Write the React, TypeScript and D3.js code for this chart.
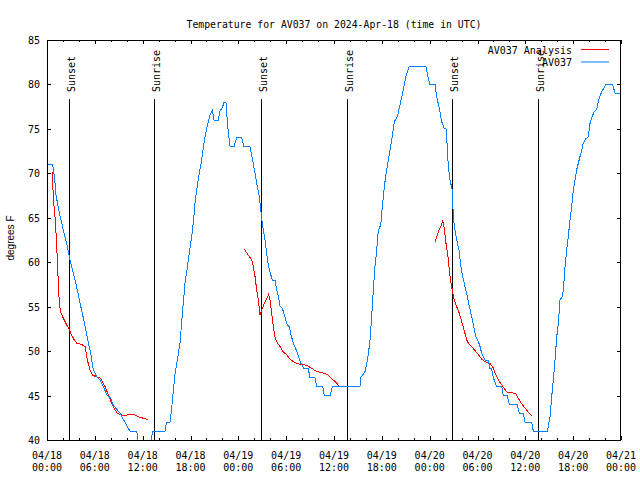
import React from 'react';
import * as d3 from 'd3';

// Time axis: hours since 2024-04-18 00:00 UTC
const START = Date.UTC(2024, 3, 18, 0, 0);
const END = Date.UTC(2024, 3, 21, 0, 0);

const titleText = 'Temperature for AV037 on 2024-Apr-18 (time in UTC)';
const yLabel = 'degrees F';
const seriesNames = ['AV037 Analysis', 'AV037'];
const seriesColors = ['#ff0000', '#0080ff'];

const yTicks = [40, 45, 50, 55, 60, 65, 70, 75, 80, 85];

// Observations (AV037)
const obsHours = [
  0, 0.71, 0.96, 1.13, 1.46, 1.8, 2.05, 2.47, 2.8, 3.14, 3.47, 3.8, 4.14, 4.47, 4.8, 5.14, 5.48, 5.81,
  6.23, 6.65, 7.07, 7.49, 7.99, 8.32, 8.82, 9.16, 9.78, 10.4, 11.25, 11.6, 12.9, 13.26, 14.8, 15.0,
  15.43, 15.64, 15.85, 16.06, 16.35, 16.68, 17.02, 17.31, 17.52, 17.85, 18.15, 18.35, 18.56, 18.77,
  19.1, 19.4, 19.69, 20.03, 20.45, 20.74, 20.95, 21.49, 21.7, 22.0, 22.2, 22.45, 22.66, 22.96, 23.46,
  23.79, 24.42, 24.71, 25.46, 25.88, 26.3, 26.63, 26.93, 27.14, 27.35, 27.56, 27.76, 27.97, 28.27,
  28.6, 28.81, 29.02, 29.23, 29.52, 29.77, 30.07, 30.4, 30.61, 30.9, 31.32, 31.61, 31.86, 32.24,
  32.78, 32.99, 33.62, 33.83, 34.58, 34.79, 35.5, 35.79, 39.26, 39.35, 39.89, 40.1, 40.3, 40.52,
  40.73, 40.93, 41.14, 41.36, 41.56, 41.86, 42.1, 42.31, 42.6, 42.9, 43.24, 43.57, 43.95, 44.28,
  44.7, 45.03, 45.41, 47.54, 47.75, 48.04, 48.67, 48.88, 49.17, 49.51, 49.8, 50.05, 50.21, 50.34,
  50.55, 50.84, 50.97, 51.18, 51.39, 51.68, 51.89, 52.14, 52.43, 52.73, 52.98, 53.27, 53.56, 53.81,
  54.1, 54.32, 54.53, 54.94, 55.36, 55.57, 55.78, 55.99, 56.41, 57.04, 57.24, 57.74, 57.99, 58.99,
  59.25, 59.75, 59.96, 60.8, 61.0, 62.76, 63.1, 63.31, 63.51, 63.72, 63.94, 64.14, 64.35, 64.64,
  64.77, 64.98, 65.19, 65.39, 65.6, 65.81, 66.02, 66.23, 66.44, 66.64, 66.86, 67.07, 67.27, 67.61,
  67.9, 68.11, 68.32, 68.61, 68.94, 69.26, 69.58, 70.12, 70.96, 71.25, 71.88,
];
const obsTemps = [
  71, 71, 69.4, 67.6, 65.9, 64.6, 63.6, 62.1, 60.6, 59.3, 58.2, 56.9, 55.4, 54.1, 52.7, 51.1, 49.75, 47.9,
  47.1, 46.75, 46, 45.1, 44.7, 43.9, 43.4, 43, 42, 41, 41, 39, 39, 41, 41, 42,
  42, 43.6, 45.6, 47.5, 49, 50.9, 54.6, 57.6, 58.9, 61, 62.9, 64.4, 66.6, 68.1,
  70, 71.5, 73.4, 75.1, 76.6, 77.1, 76, 76, 77, 77.4, 78, 78, 75.3, 73, 73,
  74, 74, 73, 73, 71.1, 68.9, 67.4, 64.9, 63.6, 62.5, 61, 59.7, 58.9, 58,
  58, 56.9, 56.1, 55.1, 54.8, 54.1, 53.05, 52.75, 51.8, 50.9, 50, 49.2, 48.6, 48,
  48, 47, 47, 46, 46, 45, 45, 46, 46, 47, 47.7, 48.6, 49.6, 51.25,
  53.9, 56.9, 59.5, 61.4, 63.6, 64.2, 66.6, 68.5, 70.4, 71.9, 73.75, 75.8, 76.4, 77.7,
  79.4, 80.9, 82, 82, 81, 80, 80, 78.6, 77.5, 75.8, 75.1, 75, 73, 70.75,
  69.25, 68.1, 65, 63.6, 62.5, 61.4, 59.7, 58.4, 57.25, 56.1, 55, 53.9, 52.6, 51.6,
  51.1, 50.5, 49.75, 49, 49, 48, 48, 47, 46, 46, 45, 45, 44, 44,
  43, 43, 42, 42, 41, 41, 42.6, 44.9, 46.75, 49, 51.6, 53.1, 55.75, 56.1,
  56.9, 59.5, 61.4, 62.9, 64.75, 66.25, 68.1, 69.25, 70.4, 71.1, 71.9, 72.6, 73.4, 73.9,
  74.1, 75.6, 76.2, 76.9, 77.2, 78.4, 79.2, 80, 80, 79, 79,
];

// Analysis (AV037 Analysis), three runs
const anaHours1 = [
  0.67, 0.79, 1.0, 1.13, 1.3, 1.42, 1.55, 1.71, 2.05, 2.38, 2.8, 3.09, 3.43, 3.72, 4.35, 4.77, 5.06,
  5.39, 5.69, 6.23, 6.65, 6.86, 7.28, 7.69, 8.12, 8.53, 8.82, 9.37, 10.0, 10.41, 10.83, 11.25, 11.67,
  12.29, 12.71,
];
const anaTemps1 = [
  70.2, 67.2, 65.1, 63.25, 60.25, 57.6, 55.4, 54.4, 53.7, 53.1, 52.4, 51.8, 51.25, 50.9, 50.76, 50.5, 49,
  47.9, 47.3, 47.1, 47.0, 46.75, 46, 45.1, 44.1, 43.4, 43, 42.8, 42.8, 42.9, 42.9, 42.7, 42.55,
  42.4, 42.3,
];
const anaHours2 = [
  24.75, 25.25, 25.68, 25.88, 26.09, 26.3, 26.5, 26.72, 26.93, 27.26, 27.56, 27.81, 27.97, 28.19, 28.39,
  28.6, 28.81, 29.23, 29.64, 30.07, 30.48, 30.9, 31.32, 31.95, 32.58, 33.2, 33.83, 34.46, 35.09, 35.5,
  35.91, 36.34, 36.63,
];
const anaTemps2 = [
  61.45, 60.8, 60.25, 59.5, 58.4, 56.9, 55.75, 54.06, 54.6, 55.4, 55.9, 56.4, 55.75, 54.25, 52.75,
  51.6, 51.06, 50.5, 49.9, 49.6, 49.1, 48.8, 48.6, 48.5, 48.4, 48.06, 47.7, 47.6, 47.4, 47.1,
  46.75, 46.4, 46,
];
const anaHours3 = [
  48.67, 49.08, 49.39, 49.64, 49.8, 50.05, 50.3, 50.47, 50.64, 50.8, 51.05, 51.39, 51.72, 52.02, 52.31,
  52.65, 52.85, 53.27, 53.69, 54.1, 54.53, 54.94, 55.57, 55.91, 56.2, 56.62, 57.04, 57.67, 58.3, 58.79,
  59.12, 59.55, 59.96, 60.38, 60.8,
];
const anaTemps3 = [
  62.3, 63.4, 64.0, 64.7, 64.0, 62.1, 60.6, 59.1, 57.8, 57.06, 55.9, 55, 54.25, 53.3, 52.4,
  51.25, 50.9, 50.5, 50.05, 49.6, 49.1, 48.8, 48.6, 48.25, 47.5, 46.75, 46.2, 45.4, 45.3, 45.25,
  44.7, 44.05, 43.6, 43.1, 42.7,
];

const sunLabels = ['Sunset', 'Sunrise', 'Sunset', 'Sunrise', 'Sunset', 'Sunrise'];
const sunTimes = [
  '2024-04-18T02:48Z', '2024-04-18T13:28Z', '2024-04-19T02:50Z',
  '2024-04-19T13:35Z', '2024-04-20T02:50Z', '2024-04-20T13:38Z',
];

const W = 640;
const H = 480;
const M = { left: 47, right: 621, top: 40, bottom: 440 };
const MONO = '"DejaVu Sans Mono", monospace';

const hourToDate = (h: number) => new Date(START + h * 3600 * 1000);

export default function App() {
  const x = d3.scaleUtc().domain([new Date(START), new Date(END)]).range([M.left, M.right]);
  const y = d3.scaleLinear().domain([40, 85]).range([M.bottom, M.top]);

  const line = d3
    .line<[number, number]>()
    .x((d) => x(hourToDate(d[0])))
    .y((d) => y(d[1]));

  const obsPts = obsHours.map((h, i) => [h, obsTemps[i]] as [number, number]);
  const anaRuns = [
    [anaHours1, anaTemps1],
    [anaHours2, anaTemps2],
    [anaHours3, anaTemps3],
  ].map(([hs, ts]) => hs.map((h, i) => [h, ts[i]] as [number, number]));

  const allTicks = d3.utcHour.every(2)!.range(new Date(START), new Date(END + 1));
  const majorTicks = d3.utcHour.every(6)!.range(new Date(START), new Date(END + 1));
  const fmtDate = d3.utcFormat('%m/%d');
  const fmtTime = d3.utcFormat('%H:%M');

  const px = (v: number) => Math.round(v) + 0.5;

  return (
    <svg
      width={W}
      height={H}
      style={{ position: 'absolute', left: 0, top: 0, background: '#fff' }}
    >
      <rect x={0} y={0} width={W} height={H} fill="#fff" />
      <defs>
        <clipPath id="plotclip">
          <rect x={M.left} y={M.top} width={M.right - M.left} height={M.bottom - M.top} />
        </clipPath>
      </defs>

      {/* title */}
      <text x={(M.left + M.right) / 2} y={28} textAnchor="middle" fontFamily={MONO} fontSize={9.8} fill="#000">
        {titleText}
      </text>

      {/* y label */}
      <text
        transform={`translate(13.5, 238) rotate(-90)`}
        textAnchor="middle"
        fontFamily='"Liberation Sans", Arial, sans-serif'
        fontSize={10}
        fill="#000"
      >
        {yLabel}
      </text>

      {/* y ticks */}
      {yTicks.map((t) => (
        <g key={'y' + t}>
          <line x1={M.left} x2={M.left + 4} y1={px(y(t))} y2={px(y(t))} stroke="#000" />
          <line x1={M.right - 4} x2={M.right} y1={px(y(t))} y2={px(y(t))} stroke="#000" />
          <text x={40} y={y(t) + 4} textAnchor="end" fontFamily={MONO} fontSize={10} fill="#000">
            {t}
          </text>
        </g>
      ))}

      {/* x ticks */}
      {allTicks.map((d) => {
        const major = majorTicks.some((m) => +m === +d);
        const len = major ? 4 : 2;
        const xx = px(x(d));
        return (
          <g key={'x' + +d}>
            <line x1={xx} x2={xx} y1={M.bottom} y2={M.bottom - len} stroke="#000" />
            <line x1={xx} x2={xx} y1={M.top} y2={M.top + len} stroke="#000" />
          </g>
        );
      })}
      {majorTicks.map((d) => (
        <g key={'xl' + +d}>
          <text x={x(d)} y={458.5} textAnchor="middle" fontFamily={MONO} fontSize={10} fill="#000">
            {fmtDate(d)}
          </text>
          <text x={x(d)} y={470.5} textAnchor="middle" fontFamily={MONO} fontSize={10} fill="#000">
            {fmtTime(d)}
          </text>
        </g>
      ))}

      {/* sunrise / sunset markers */}
      {sunTimes.map((t, i) => {
        const xx = px(x(new Date(t)));
        return (
          <g key={'sun' + i}>
            <line x1={xx} x2={xx} y1={99} y2={M.bottom} stroke="#000" />
            <text
              transform={`translate(${xx + 5}, 92) rotate(-90)`}
              fontFamily={MONO}
              fontSize={10}
              fill="#000"
            >
              {sunLabels[i]}
            </text>
          </g>
        );
      })}

      {/* data */}
      <g clipPath="url(#plotclip)">
        {anaRuns.map((run, i) => (
          <path
            key={'ana' + i}
            d={line(run) || ''}
            fill="none"
            stroke={seriesColors[0]}
            strokeWidth={1}
            shapeRendering="crispEdges"
          />
        ))}
        <path
          d={line(obsPts) || ''}
          fill="none"
          stroke={seriesColors[1]}
          strokeWidth={1}
          shapeRendering="crispEdges"
        />
      </g>

      {/* legend */}
      {seriesNames.map((name, i) => (
        <g key={'leg' + i}>
          <text x={572} y={53.5 + i * 12} textAnchor="end" fontFamily={MONO} fontSize={10} fill="#000">
            {name}
          </text>
          <line x1={581} x2={609} y1={49.5 + i * 12.5} y2={49.5 + i * 12.5} stroke={seriesColors[i]} />
        </g>
      ))}

      {/* border */}
      <rect
        x={M.left + 0.5}
        y={M.top + 0.5}
        width={M.right - M.left - 1}
        height={M.bottom - M.top}
        fill="none"
        stroke="#000"
      />
    </svg>
  );
}
